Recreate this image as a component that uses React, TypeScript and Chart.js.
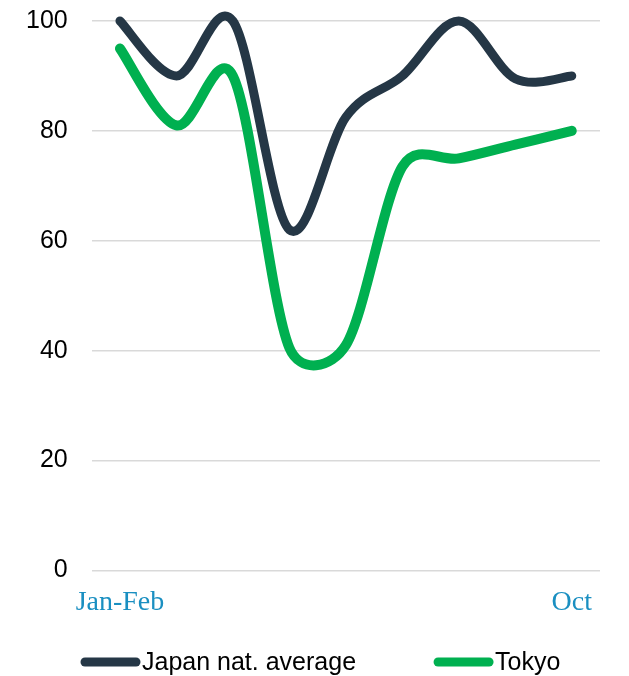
import React, { useEffect, useRef } from "react";
import { Chart, registerables } from "chart.js";

Chart.register(...registerables);

const categories = ["Jan-Feb", "Mar", "Apr", "May", "Jun", "Jul", "Aug", "Sep", "Oct"];
const japanValues = [100, 90, 100, 62, 82.5, 90, 100, 89.5, 90];
const tokyoValues = [95, 81, 90, 40.5, 41, 73.5, 75, 77.5, 80];
const seriesNames = ["Japan nat. average", "Tokyo"];
const seriesColors = ["#253746", "#00B050"];
const yTicks = [0, 20, 40, 60, 80, 100];

// Office-style smoothing: Bezier control vectors of 1/6 of the neighbour chord,
// shortened to at most half of the segment length.
const smoothPlugin = {
  id: "officeSmooth",
  beforeDatasetsDraw(chart: any) {
    chart.data.datasets.forEach((_ds: any, di: number) => {
      const meta = chart.getDatasetMeta(di);
      const line = meta.dataset;
      if (!line) return;
      if (typeof line.updateControlPoints === "function") {
        line.updateControlPoints(chart.chartArea, "x");
      }
      const pts = meta.data;
      const n = pts.length;
      const dist = (a: any, b: any) => Math.hypot(b.x - a.x, b.y - a.y);
      for (let i = 0; i < n - 1; i++) {
        const p1 = pts[i];
        const p2 = pts[i + 1];
        const p0 = i > 0 ? pts[i - 1] : p1;
        const p3 = i + 2 < n ? pts[i + 2] : p2;
        const d12 = dist(p1, p2);
        const d02 = dist(p0, p2);
        const d13 = dist(p1, p3);
        const fa = d02 > 0 ? Math.min(1 / 6, (0.5 * d12) / d02) : 0;
        const fb = d13 > 0 ? Math.min(1 / 6, (0.5 * d12) / d13) : 0;
        p1.cp2x = p1.x + (p2.x - p0.x) * fa;
        p1.cp2y = p1.y + (p2.y - p0.y) * fa;
        p2.cp1x = p2.x - (p3.x - p1.x) * fb;
        p2.cp1y = p2.y - (p3.y - p1.y) * fb;
      }
      line._path = undefined;
    });
  },
};

const legendPlugin = {
  id: "customLegend",
  afterDraw(chart: any) {
    const ctx = chart.ctx;
    const y = 662;
    const lineLen = 51;
    let x = 85;
    ctx.save();
    ctx.font = "25px 'Liberation Sans', Arial, sans-serif";
    ctx.textBaseline = "middle";
    ctx.fillStyle = "#000";
    chart.data.datasets.forEach((ds: any) => {
      ctx.beginPath();
      ctx.strokeStyle = ds.borderColor;
      ctx.lineWidth = 9;
      ctx.lineCap = "round";
      ctx.moveTo(x, y);
      ctx.lineTo(x + lineLen, y);
      ctx.stroke();
      const tx = x + lineLen + 6;
      ctx.fillText(ds.label, tx, y + 1);
      const w = ctx.measureText(ds.label).width;
      x = tx + w + 82;
    });
    ctx.restore();
  },
};

export default function App() {
  const ref = useRef<HTMLCanvasElement | null>(null);
  useEffect(() => {
    document.body.style.margin = "0";
    if (!ref.current) return;
    const chart = new Chart(ref.current, {
      type: "line",
      data: {
        labels: categories,
        datasets: [
          {
            label: seriesNames[0],
            data: japanValues,
            borderColor: seriesColors[0],
            backgroundColor: seriesColors[0],
            borderWidth: 9,
            pointRadius: 0,
            tension: 0.4,
            clip: false,
            borderCapStyle: "round",
            borderJoinStyle: "round",
          },
          {
            label: seriesNames[1],
            data: tokyoValues,
            borderColor: seriesColors[1],
            backgroundColor: seriesColors[1],
            borderWidth: 10,
            pointRadius: 0,
            tension: 0.4,
            clip: false,
            borderCapStyle: "round",
            borderJoinStyle: "round",
          },
        ],
      },
      options: {
        responsive: false,
        animation: false,
        layout: { autoPadding: false, padding: { left: 23, right: 29, top: 21, bottom: 42 } },
        plugins: { legend: { display: false }, tooltip: { enabled: false } },
        scales: {
          x: {
            offset: true,
            grid: { display: false, drawTicks: false },
            border: { display: false },
            ticks: {
              autoSkip: false,
              maxRotation: 0,
              padding: 15,
              color: "#1A8FC1",
              font: { family: "'Liberation Serif', 'Times New Roman', serif", size: 28 },
              callback: (_v: any, i: number) =>
                i === 0 || i === categories.length - 1 ? categories[i] : "",
            },
          },
          y: {
            min: 0,
            max: 100,
            afterBuildTicks: (axis: any) => {
              axis.ticks = yTicks.map((v) => ({ value: v }));
            },
            grid: {
              color: "#D9D9D9",
              lineWidth: 1.5,
              drawTicks: true,
              tickLength: 21,
              tickColor: "rgba(0,0,0,0)",
            },
            border: { display: false },
            ticks: {
              padding: 3,
              color: "#000",
              font: { family: "'Liberation Sans', Arial, sans-serif", size: 25 },
            },
          },
        },
      },
      plugins: [smoothPlugin, legendPlugin],
    });
    return () => chart.destroy();
  }, []);
  return (
    <div style={{ width: 629, height: 676 }}>
      <canvas ref={ref} width={629} height={676} />
    </div>
  );
}
